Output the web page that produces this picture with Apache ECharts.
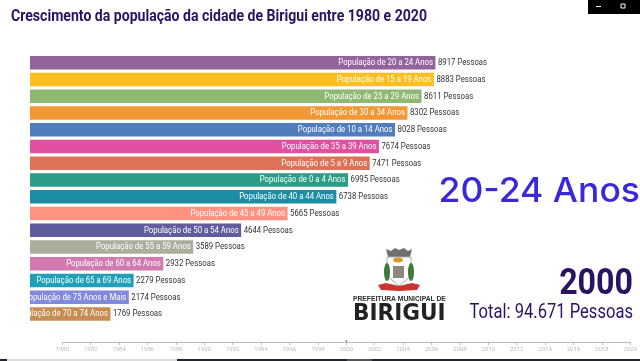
<!DOCTYPE html>
<html>
<head>
<meta charset="utf-8">
<style>
html, body { margin: 0; padding: 0; background: #fff; }
#chart { width: 640px; height: 361px; }
</style>
<script src="https://cdn.jsdelivr.net/npm/echarts@6/dist/echarts.min.js"></script>
</head>
<body>
<div id="chart"></div>
<script>
const categories = [
  'População de 20 a 24 Anos', 'População de 15 a 19 Anos', 'População de 25 a 29 Anos',
  'População de 30 a 34 Anos', 'População de 10 a 14 Anos', 'População de 35 a 39 Anos',
  'População de 5 a 9 Anos', 'População de 0 a 4 Anos', 'População de 40 a 44 Anos',
  'População de 45 a 49 Anos', 'População de 50 a 54 Anos', 'População de 55 a 59 Anos',
  'População de 60 a 64 Anos', 'População de 65 a 69 Anos', 'População de 75 Anos e Mais',
  'População de 70 a 74 Anos'
];
const pessoas = [8917, 8883, 8611, 8302, 8028, 7674, 7471, 6995, 6738, 5665, 4644, 3589, 2932, 2279, 2174, 1769];
const barColors = [
  '#94639c', '#fdbe21', '#8fb972', '#f19733', '#4f7dbd', '#e14fa0', '#dc7257', '#2a9d86',
  '#1b8ea6', '#ff9280', '#5f5d9c', '#acae9c', '#d27ab0', '#1ea0b8', '#8089dc', '#c68c52'
];
const timelineYears = ['1980', '1982', '1984', '1986', '1988', '1990', '1992', '1994', '1996', '1998', '2000',
  '2002', '2004', '2006', '2008', '2010', '2012', '2014', '2016', '2018', '2020'];
const currentYear = '2000';

const purple = '#2a1265';
const squeeze = 0.82; // a fonte do original e condensada, nao tem aqui

function renderLabels(params, api) {
  const v = api.value(0);
  const i = api.value(1);
  const p = api.coord([v, i]);
  return {
    type: 'group',
    children: [
      {
        type: 'text', x: p[0] - 2.5, y: p[1], scaleX: squeeze,
        style: { text: categories[i], textAlign: 'right', textVerticalAlign: 'middle', fill: '#fff', font: '9.5px Roboto' }
      },
      {
        type: 'text', x: p[0] + 2.5, y: p[1], scaleX: squeeze,
        style: { text: v + ' Pessoas', textAlign: 'left', textVerticalAlign: 'middle', fill: '#333', font: '9.5px Roboto' }
      }
    ]
  };
}

const chart = echarts.init(document.getElementById('chart'));
chart.setOption({
  animation: false,
  backgroundColor: '#fff',
  grid: [
    { left: 30, top: 54.3, width: 409.2, height: 268 },
    { left: 62.3, right: 7.3, top: 341, height: 1 }
  ],
  xAxis: [
    { type: 'value', gridIndex: 0, min: 0, max: 9000, show: false },
    {
      type: 'category', gridIndex: 1, data: timelineYears, boundaryGap: false,
      axisLine: { lineStyle: { color: '#bdbdbd', width: 1 } },
      axisTick: { length: 3, lineStyle: { color: '#bdbdbd' } },
      axisLabel: { color: '#bcbcbc', fontSize: 6, margin: 4, interval: 0, fontFamily: 'Roboto' }
    }
  ],
  yAxis: [
    { type: 'category', gridIndex: 0, data: categories, inverse: true, show: false },
    { type: 'value', gridIndex: 1, show: false, min: 0, max: 1 }
  ],
  series: [
    {
      type: 'bar', xAxisIndex: 0, yAxisIndex: 0, barWidth: 13.5,
      data: pessoas.map((v, i) => ({ value: v, itemStyle: { color: barColors[i] } }))
    },
    {
      type: 'custom', xAxisIndex: 0, yAxisIndex: 0, z: 5, clip: false,
      data: pessoas.map((v, i) => [v, i]),
      renderItem: renderLabels
    },
    {
      type: 'scatter', xAxisIndex: 1, yAxisIndex: 1, symbolSize: 2, symbol: 'rect',
      data: [[currentYear, 1]], itemStyle: { color: '#888' }
    }
  ],
  graphic: [
    // cobre o inicio dos rotulos que passam da barra
    { type: 'rect', z: 100, shape: { x: 0, y: 50, width: 30, height: 280 }, style: { fill: '#fff' } },
    { type: 'rect', z: 101, shape: { x: 588, y: 0, width: 52, height: 14 }, style: { fill: '#000' } },
    { type: 'rect', z: 102, shape: { x: 596, y: 6, width: 5, height: 1 }, style: { fill: '#fff' } },
    { type: 'rect', z: 102, shape: { x: 621, y: 4, width: 4, height: 4 }, style: { fill: 'transparent', stroke: '#fff', lineWidth: 1 } },
    { type: 'rect', z: 101, shape: { x: 0, y: 359, width: 640, height: 2 }, style: { fill: '#20262b' } },
    { type: 'rect', z: 102, shape: { x: 7, y: 359, width: 170, height: 2 }, style: { fill: '#dcdcdc' } },
    { type: 'rect', z: 102, shape: { x: 347, y: 359, width: 25, height: 2 }, style: { fill: '#555' } },

    { type: 'text', z: 100, x: 11, y: 17, scaleX: 0.88, style: { text: 'Crescimento da população da cidade de Birigui entre 1980 e 2020', textVerticalAlign: 'middle', fill: purple, font: 'bold 16px Roboto' } },
    { type: 'text', z: 100, x: 640, y: 192, scaleX: 1.045, style: { text: '20-24 Anos', textAlign: 'right', textVerticalAlign: 'middle', fill: '#3b28d9', font: '500 34px Inter, sans-serif' } },
    { type: 'text', z: 100, x: 633, y: 285, scaleX: 0.87, style: { text: '2000', textAlign: 'right', textVerticalAlign: 'middle', fill: purple, font: 'bold 37px Roboto' } },
    { type: 'text', z: 100, x: 633, y: 313, scaleX: 0.85, style: { text: 'Total: 94.671 Pessoas', textAlign: 'right', textVerticalAlign: 'middle', fill: purple, font: '19.5px Roboto' } },

    // brasao
    { type: 'polygon', z: 100, shape: { points: [[386, 249], [391, 251], [395, 248], [399, 250], [404, 248], [408, 251], [412, 249], [410, 257], [388, 257]] }, style: { fill: '#6f6f6f' } },
    { type: 'polygon', z: 100, shape: { points: [[387, 257], [411, 257], [411, 276], [399, 286], [387, 276]] }, style: { fill: '#fff', stroke: '#aaa', lineWidth: 1 } },
    { type: 'ellipse', z: 101, shape: { cx: 398, cy: 260, rx: 5, ry: 2.6 }, style: { fill: '#d99a2b' } },
    { type: 'rect', z: 101, shape: { x: 393, y: 266, width: 11, height: 12 }, style: { fill: '#8a8a7c' } },
    { type: 'ellipse', z: 101, shape: { cx: 387, cy: 272, rx: 3, ry: 9 }, style: { fill: '#3f7a3a' } },
    { type: 'ellipse', z: 101, shape: { cx: 411, cy: 272, rx: 3, ry: 9 }, style: { fill: '#3f7a3a' } },
    { type: 'polygon', z: 102, shape: { points: [[378, 285], [386, 283], [399, 286], [412, 283], [420, 285], [417, 290], [399, 291], [381, 290]] }, style: { fill: '#c8352e' } },

    { type: 'text', z: 100, x: 353, y: 299.5, scaleX: 0.96, style: { text: 'PREFEITURA MUNICIPAL DE', textVerticalAlign: 'middle', fill: '#2b2b2b', font: 'bold 7px "Liberation Sans", sans-serif' } },
    { type: 'text', z: 100, x: 353, y: 314, scaleX: 0.92, style: { text: 'BIRIGUI', textVerticalAlign: 'middle', fill: '#222', font: 'bold 23.5px "DejaVu Sans", sans-serif' } }
  ]
});
</script>
</body>
</html>
